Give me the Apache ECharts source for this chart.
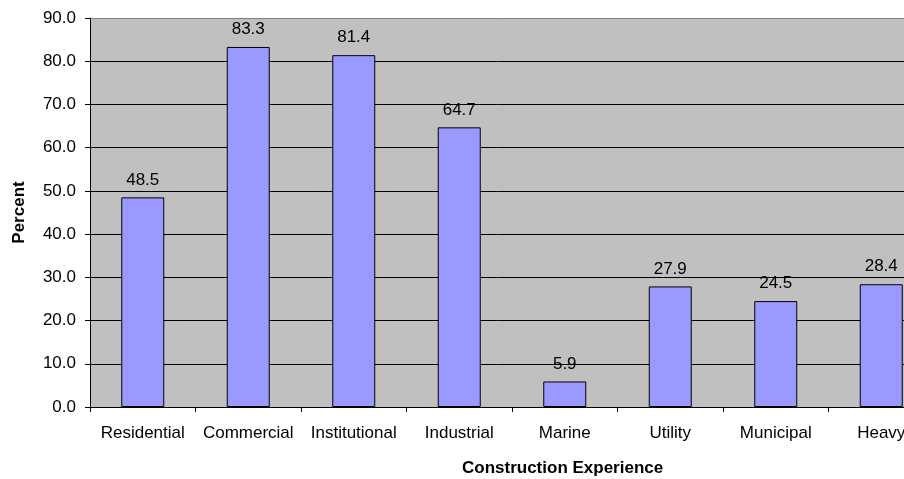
<!DOCTYPE html>
<html>
<head>
<meta charset="utf-8">
<script src="https://cdn.jsdelivr.net/npm/echarts@6/dist/echarts.min.js"></script>
<style>
  html, body { margin: 0; padding: 0; background: #fff; }
  #chart { width: 904px; height: 479px; }
</style>
</head>
<body>
<div id="chart"></div>
<script>
// Share of respondents with each type of construction experience
const categories = ['Residential', 'Commercial', 'Institutional', 'Industrial', 'Marine', 'Utility', 'Municipal', 'Heavy'];
const percentValues = [48.5, 83.3, 81.4, 64.7, 5.9, 27.9, 24.5, 28.4];
const yMin = 0;
const yMax = 90;
const yStep = 10;

const FONT = '"Liberation Sans", Arial, sans-serif';
const chart = echarts.init(document.getElementById('chart'), null, { renderer: 'canvas' });

// grid lines: black, with the top border of the plot in gray
const splitColors = [];
for (let v = yMin; v <= yMax; v += yStep) splitColors.push(v === yMax ? '#808080' : '#000000');

chart.setOption({
  animation: false,
  backgroundColor: '#ffffff',
  title: {
    text: 'Construction Experience',
    left: 457,
    top: 455,
    textStyle: { fontFamily: FONT, fontSize: 17, fontWeight: 'bold', color: '#000' }
  },
  grid: { left: 90, top: 18, width: 844, height: 389, containLabel: false,
          outerBoundsMode: 'none',
          show: true, backgroundColor: '#c0c0c0', borderWidth: 0 },
  xAxis: {
    type: 'category',
    data: categories,
    boundaryGap: true,
    axisLine: { lineStyle: { color: '#000', width: 1 } },
    axisTick: { show: true, length: 5, alignWithLabel: false, lineStyle: { color: '#000' } },
    axisLabel: { fontFamily: FONT, fontSize: 17, color: '#000', margin: 18, interval: 0 },
    splitLine: { show: false }
  },
  yAxis: {
    type: 'value',
    min: yMin,
    max: yMax,
    interval: yStep,
    name: 'Percent',
    nameLocation: 'middle',
    nameGap: 62,
    nameTextStyle: { fontFamily: FONT, fontSize: 17, fontWeight: 'bold', color: '#000' },
    axisLine: { show: true, lineStyle: { color: '#000', width: 1 } },
    axisTick: { show: true, length: 5, lineStyle: { color: '#000' } },
    axisLabel: { fontFamily: FONT, fontSize: 17, color: '#000', margin: 14,
                 formatter: v => v.toFixed(1) },
    splitLine: { show: true, lineStyle: { color: splitColors, width: 1 } }
  },
  series: [{
    type: 'bar',
    data: percentValues,
    barWidth: 43,
    itemStyle: { color: '#9999ff', borderColor: '#000', borderWidth: 1 },
    label: {
      show: true,
      position: 'top',
      distance: 9,
      fontFamily: FONT,
      fontSize: 17,
      color: '#000',
      formatter: p => p.value.toFixed(1)
    }
  }]
});
</script>
</body>
</html>
